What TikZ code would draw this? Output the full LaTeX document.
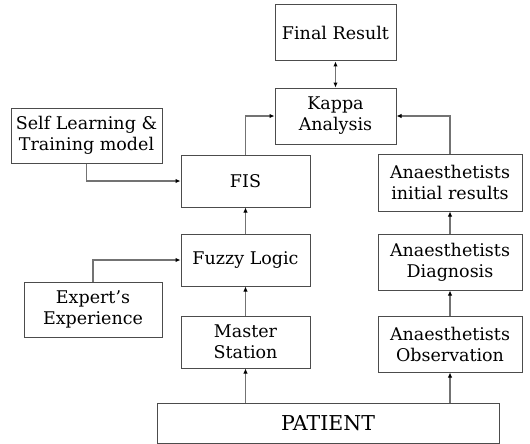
\documentclass[tikz,border=0pt]{standalone}
\usepackage{fontspec}
\setmainfont{DejaVu Serif}
\usetikzlibrary{arrows.meta}
\begin{document}
\begin{tikzpicture}[x=1pt,y=-1pt,
  box/.style={draw=black!70, line width=1pt, fill=white, inner sep=0pt, align=center,
    font=\fontsize{17.5}{21}\selectfont, text=black},
  conn/.style={draw=black!55, line width=1.3pt, -{Latex[length=5pt,width=4.5pt,black]}},
  dconn/.style={draw=black!55, line width=1.3pt, {Latex[length=5pt,width=4.5pt,black]}-{Latex[length=5pt,width=4.5pt,black]}}]
\useasboundingbox (0,0) rectangle (530,444);
\node[box, minimum width=121, minimum height=56] (final) at (335.5,33) {Final Result};
\node[box, minimum width=121, minimum height=56] (kappa) at (335.5,116) {Kappa\\Analysis};
\node[box, minimum width=151, minimum height=55] (self) at (86.5,135.5) {Self Learning \&\\Training model};
\node[box, minimum width=129, minimum height=52] (fis) at (245.5,181) {FIS};
\node[box, minimum width=144, minimum height=57] (init) at (450,182.5) {Anaesthetists\\initial results};
\node[box, minimum width=129, minimum height=52] (fuzzy) at (245.5,260) {Fuzzy Logic};
\node[box, minimum width=144, minimum height=56] (diag) at (450,262) {Anaesthetists\\Diagnosis};
\node[box, minimum width=138, minimum height=55] (expert) at (93,309.5) {Expert’s\\Experience};
\node[box, minimum width=129, minimum height=52] (master) at (245.5,342) {Master\\Station};
\node[box, minimum width=144, minimum height=56] (obs) at (450,344) {Anaesthetists\\Observation};
\node[box, minimum width=342, minimum height=40, font=\fontsize{20.5}{24}\selectfont] (patient) at (328,423) {PATIENT};
\draw[dconn] (kappa.north) -- (final.south);
\draw[conn] (fis.north) |- (kappa.west);
\draw[conn] (init.north) |- (kappa.east);
\draw[conn] (self.south) |- (fis.west);
\draw[conn] (fuzzy.north) -- (fis.south);
\draw[conn] (expert.north) |- (fuzzy.west);
\draw[conn] (master.north) -- (fuzzy.south);
\draw[conn] (master.south |- patient.north) -- (master.south);
\draw[conn] (obs.south |- patient.north) -- (obs.south);
\draw[conn] (obs.north) -- (diag.south);
\draw[conn] (diag.north) -- (init.south);
\end{tikzpicture}
\end{document}
